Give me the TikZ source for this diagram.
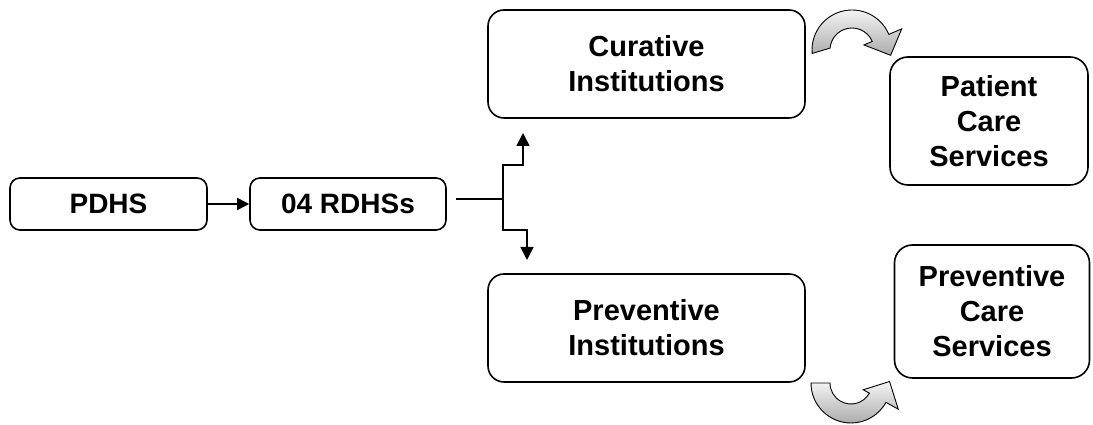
\documentclass[tikz,border=0pt]{standalone}
\usepackage{fontspec}
\setmainfont{Liberation Sans}
\usetikzlibrary{arrows.meta,calc}
\begin{document}
\begin{tikzpicture}[x=1pt,y=1pt,
  box/.style={draw=black,line width=1.6pt,rounded corners=12pt,fill=white,
    align=center,inner sep=0pt,font=\fontsize{29}{35}\selectfont\bfseries},
  sbox/.style={box,font=\fontsize{28}{34}\selectfont\bfseries,minimum height=52pt,rounded corners=10pt},
  ln/.style={line width=1.6pt,draw=black},
  tip/.style={-{Triangle[length=13pt,width=13pt]}},
  curv/.style={draw=black,line width=0.9pt,top color=gray!8,bottom color=gray!65}
]
\useasboundingbox (0,0) rectangle (1093,425);
\node[sbox,minimum width=197pt] (pdhs) at (108.5,221) {PDHS};
\node[sbox,minimum width=196pt] (rdhs) at (348,221) {04 RDHSs};
\node[box,minimum width=317pt,minimum height=108pt,rounded corners=16pt] (cur) at (646.5,361) {Curative\\Institutions};
\node[box,minimum width=317pt,minimum height=108pt,rounded corners=16pt] (prev) at (646.5,97) {Preventive\\Institutions};
\node[box,minimum width=198pt,minimum height=128pt,rounded corners=18pt] (pat) at (989,304) {Patient\\Care\\Services};
\node[box,minimum width=195pt,minimum height=133pt,rounded corners=18pt] (pcs) at (992,113.5) {Preventive\\Care\\Services};

\draw[ln,-{Triangle[length=12pt,width=12pt]}] (pdhs.east) -- (rdhs.west);
\coordinate (j) at (503,226);
\coordinate (upt) at (523,292);
\coordinate (dnt) at (527,165);
\draw[ln] ([xshift=9pt,yshift=5pt]rdhs.east) -- (j);
\draw[ln,tip] (j) -- (503,260) -| (upt);
\draw[ln,tip] (j) -- (503,195) -| (dnt);

% top curved arrow
\coordinate (c1) at (852,375);
\draw[curv] ($(c1)+(185:40)$) arc[start angle=185,end angle=23,radius=40]
  -- ($(c1)+(23:54)$) -- ($(c1)+(23:33.5)+(-67:20)$) -- ($(c1)+(23:13)$)
  -- ($(c1)+(23:22)$) arc[start angle=23,end angle=175,radius=22] -- cycle;
% bottom curved arrow
\coordinate (c2) at (851,42);
\draw[curv] ($(c2)+(180:40)$) arc[start angle=180,end angle=331,radius=40]
  -- ($(c2)+(331:54)$) -- ($(c2)+(331:33)+(61:20)$) -- ($(c2)+(331:14)$)
  -- ($(c2)+(331:21)$) arc[start angle=331,end angle=180,radius=21] -- cycle;
\end{tikzpicture}
\end{document}
